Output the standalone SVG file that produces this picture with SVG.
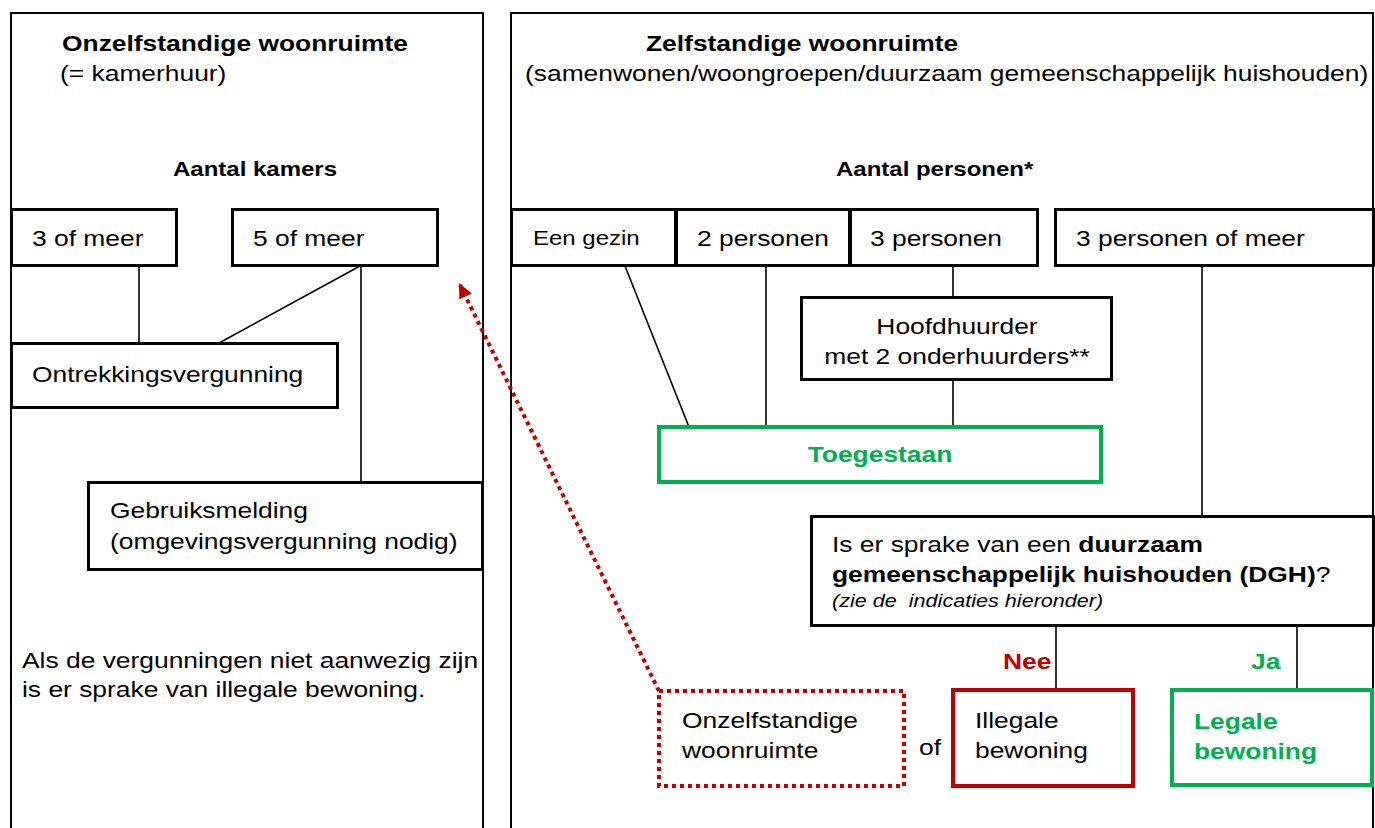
<svg xmlns="http://www.w3.org/2000/svg" width="1375" height="828" viewBox="0 0 1375 828">
<style>
text{font-family:"Liberation Sans",Arial,sans-serif;font-size:22px;fill:#000}
.b{font-weight:bold}
.h{font-size:20px;font-weight:bold}
.s20{font-size:20px}
.i{font-style:italic;font-size:18px}
.g{fill:#00b050}
.r{fill:#c00000}
.frame{fill:none;stroke:#000;stroke-width:2}
.box{fill:#fff;stroke:#000;stroke-width:3}
.gbox{fill:#fff;stroke:#00b050;stroke-width:4}
.rbox{fill:#fff;stroke:#c00000;stroke-width:4}
.dbox{fill:#fff;stroke:#c00000;stroke-width:4;stroke-dasharray:4 4}
.ln{stroke:#000;stroke-width:1.6;fill:none}
.m{text-anchor:middle}
</style>
<defs>
<marker id="ah" markerUnits="userSpaceOnUse" markerWidth="16" markerHeight="14" refX="15" refY="7" orient="auto">
<path d="M0,0 L15,7 L0,14 z" fill="#c00000"/>
</marker>
</defs>

<g id="panel-left">
<rect class="frame" x="11" y="13" width="472" height="840"/>
<text class="b" transform="translate(62 51) scale(1.2 1)">Onzelfstandige woonruimte</text>
<text transform="translate(60 81) scale(1.2 1)">(= kamerhuur)</text>
<text class="h" transform="translate(173 176) scale(1.2 1)">Aantal kamers</text>
<text transform="translate(22 668) scale(1.2 1)">Als de vergunningen niet aanwezig zijn</text>
<text transform="translate(22 697) scale(1.2 1)">is er sprake van illegale bewoning.</text>
</g>

<g id="panel-right">
<rect class="frame" x="511" y="13" width="862" height="840"/>
<text class="b" transform="translate(646 51) scale(1.2 1)">Zelfstandige woonruimte</text>
<text transform="translate(525 81) scale(1.2 1)">(samenwonen/woongroepen/duurzaam gemeenschappelijk huishouden)</text>
<text class="h" transform="translate(836 176) scale(1.2 1)">Aantal personen*</text>
</g>

<g id="connectors">
<line class="ln" x1="139" y1="266" x2="139" y2="343"/>
<line class="ln" x1="360" y1="266" x2="219" y2="343"/>
<line class="ln" x1="361" y1="266" x2="361" y2="482"/>
<line class="ln" x1="625" y1="266" x2="689" y2="427"/>
<line class="ln" x1="766" y1="266" x2="766" y2="427"/>
<line class="ln" x1="953" y1="266" x2="953" y2="297"/>
<line class="ln" x1="953" y1="380" x2="953" y2="427"/>
<line class="ln" x1="1202" y1="266" x2="1202" y2="516"/>
<line class="ln" x1="1056" y1="626" x2="1056" y2="690"/>
<line class="ln" x1="1297" y1="626" x2="1297" y2="690"/>
<line x1="659" y1="691" x2="459" y2="283" stroke="#c00000" stroke-width="4" stroke-dasharray="4 4" marker-end="url(#ah)"/>
</g>

<g id="n-3ofmeer">
<rect class="box" x="11.5" y="209.5" width="165" height="56"/>
<text transform="translate(32 246) scale(1.2 1)">3 of meer</text>
</g>
<g id="n-5ofmeer">
<rect class="box" x="232.5" y="209.5" width="205" height="56"/>
<text transform="translate(253 246) scale(1.2 1)">5 of meer</text>
</g>
<g id="n-ontrekking">
<rect class="box" x="11.5" y="343.5" width="326" height="64"/>
<text transform="translate(32 382) scale(1.2 1)">Ontrekkingsvergunning</text>
</g>
<g id="n-gebruiksmelding">
<rect class="box" x="88.5" y="482.5" width="394" height="87"/>
<text transform="translate(110 518) scale(1.2 1)">Gebruiksmelding</text>
<text transform="translate(110 549) scale(1.2 1)">(omgevingsvergunning nodig)</text>
</g>

<g id="n-eengezin">
<rect class="box" x="511.5" y="209.5" width="164" height="56"/>
<text class="s20" transform="translate(533 245) scale(1.2 1)">Een gezin</text>
</g>
<g id="n-2personen">
<rect class="box" x="676.5" y="209.5" width="173" height="56"/>
<text transform="translate(697 246) scale(1.2 1)">2 personen</text>
</g>
<g id="n-3personen">
<rect class="box" x="850.5" y="209.5" width="187" height="56"/>
<text transform="translate(870 246) scale(1.2 1)">3 personen</text>
</g>
<g id="n-3personenofmeer">
<rect class="box" x="1055.5" y="209.5" width="318" height="56"/>
<text transform="translate(1076 246) scale(1.2 1)">3 personen of meer</text>
</g>
<g id="n-hoofdhuurder">
<rect class="box" x="801.5" y="297.5" width="310" height="82"/>
<text class="m" transform="translate(957 334) scale(1.2 1)">Hoofdhuurder</text>
<text class="m" transform="translate(957 364) scale(1.2 1)">met 2 onderhuurders**</text>
</g>
<g id="n-toegestaan">
<rect class="gbox" x="659" y="427" width="442" height="55"/>
<text class="b g m" transform="translate(880 462) scale(1.2 1)">Toegestaan</text>
</g>
<g id="n-dgh">
<rect class="box" x="811.5" y="516.5" width="562" height="109"/>
<text transform="translate(832 552) scale(1.2 1)">Is er sprake van een <tspan class="b">duurzaam</tspan></text>
<text transform="translate(832 582) scale(1.2 1)"><tspan class="b">gemeenschappelijk huishouden (DGH)</tspan>?</text>
<text class="i" xml:space="preserve" transform="translate(832 607) scale(1.2 1)">(zie de  indicaties hieronder)</text>
</g>
<g id="label-nee">
<text class="b r" transform="translate(1003 669) scale(1.2 1)">Nee</text>
</g>
<g id="label-ja">
<text class="b g" transform="translate(1251 669) scale(1.2 1)">Ja</text>
</g>
<g id="n-onzelfstandig">
<rect class="dbox" x="659" y="691" width="245" height="95"/>
<text transform="translate(682 728) scale(1.2 1)">Onzelfstandige</text>
<text transform="translate(682 758) scale(1.2 1)">woonruimte</text>
</g>
<g id="label-of">
<text transform="translate(919 755) scale(1.2 1)">of</text>
</g>
<g id="n-illegaal">
<rect class="rbox" x="953" y="690" width="180" height="96"/>
<text transform="translate(975 728) scale(1.2 1)">Illegale</text>
<text transform="translate(975 758) scale(1.2 1)">bewoning</text>
</g>
<g id="n-legaal">
<rect class="gbox" x="1172" y="690" width="200" height="95"/>
<text class="b g" transform="translate(1194 729) scale(1.2 1)">Legale</text>
<text class="b g" transform="translate(1194 759) scale(1.2 1)">bewoning</text>
</g>
</svg>
